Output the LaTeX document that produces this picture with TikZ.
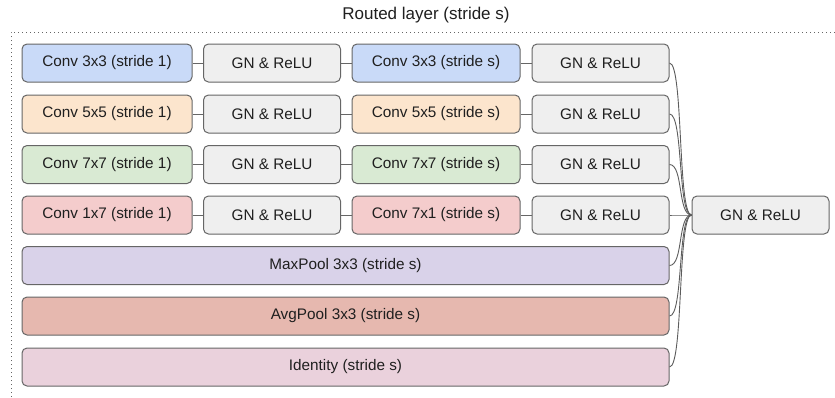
\documentclass[tikz,border=0pt]{standalone}
\usepackage{fontspec}
\setmainfont{Liberation Sans}
\begin{document}
\begin{tikzpicture}[x=1pt,y=-1pt,
  box/.style={draw=bordergray, line width=1pt, rounded corners=5pt, minimum height=38pt, inner sep=0pt, font=\fontsize{15.3}{17}\selectfont, text=textc},
  gn/.style={box, fill=gnfill, minimum width=137pt},
  conv/.style={box, minimum width=170pt},
  wide/.style={box, minimum width=647pt},
  link/.style={draw=bordergray, line width=1pt},
  route/.style={draw=bordergray!90!black, line width=0.9pt}
]
\definecolor{bordergray}{HTML}{666666}
\definecolor{textc}{HTML}{1F1F1F}
\definecolor{gnfill}{HTML}{EFEFEF}
\definecolor{cblue}{HTML}{C9DAF8}
\definecolor{corange}{HTML}{FCE5CD}
\definecolor{cgreen}{HTML}{D9EAD3}
\definecolor{cred}{HTML}{F4CCCC}
\definecolor{cpurple}{HTML}{D9D2E9}
\definecolor{cavg}{HTML}{E6B8AF}
\definecolor{cid}{HTML}{EAD1DC}
\useasboundingbox (0,0) rectangle (835,397);
\node[font=\fontsize{17}{19}\selectfont, text=textc] (title) at (426,15) {Routed layer (stride s)};
\draw[bordergray, line width=1pt, dash pattern=on 1pt off 3pt] (11,397) -- (11,32) -- (835,32);
% row 1
\node[conv, fill=cblue] (a1) at (107,63) {Conv 3x3 (stride 1)};
\node[gn] (b1) at (272,63) {GN \& ReLU};
\node[conv, fill=cblue, minimum width=168pt] (c1) at (436,63) {Conv 3x3 (stride s)};
\node[gn] (d1) at (600.5,63) {GN \& ReLU};
% row 2
\node[conv, fill=corange] (a2) at (107,114) {Conv 5x5 (stride 1)};
\node[gn] (b2) at (272,114) {GN \& ReLU};
\node[conv, fill=corange, minimum width=168pt] (c2) at (436,114) {Conv 5x5 (stride s)};
\node[gn] (d2) at (600.5,114) {GN \& ReLU};
% row 3
\node[conv, fill=cgreen] (a3) at (107,164.5) {Conv 7x7 (stride 1)};
\node[gn] (b3) at (272,164.5) {GN \& ReLU};
\node[conv, fill=cgreen, minimum width=168pt] (c3) at (436,164.5) {Conv 7x7 (stride s)};
\node[gn] (d3) at (600.5,164.5) {GN \& ReLU};
% row 4
\node[conv, fill=cred] (a4) at (107,215) {Conv 1x7 (stride 1)};
\node[gn] (b4) at (272,215) {GN \& ReLU};
\node[conv, fill=cred, minimum width=168pt] (c4) at (436,215) {Conv 7x1 (stride s)};
\node[gn] (d4) at (600.5,215) {GN \& ReLU};
% pools
\node[wide, fill=cpurple] (mp) at (345.5,265.5) {MaxPool 3x3 (stride s)};
\node[wide, fill=cavg] (ap) at (345.5,316) {AvgPool 3x3 (stride s)};
\node[wide, fill=cid] (id) at (345.5,367) {Identity (stride s)};
% final
\node[gn] (f) at (760.5,215) {GN \& ReLU};
% row links
\foreach \i in {1,2,3,4}{
  \draw[link] (a\i.east) -- (b\i.west);
  \draw[link] (b\i.east) -- (c\i.west);
  \draw[link] (c\i.east) -- (d\i.west);
}
% routes
\foreach \n in {d1,d2,d3,d4,mp,ap,id}{
  \draw[route] (\n.east) .. controls +(14,0) and +(-14,0) .. (f.west);
}
\end{tikzpicture}
\end{document}
